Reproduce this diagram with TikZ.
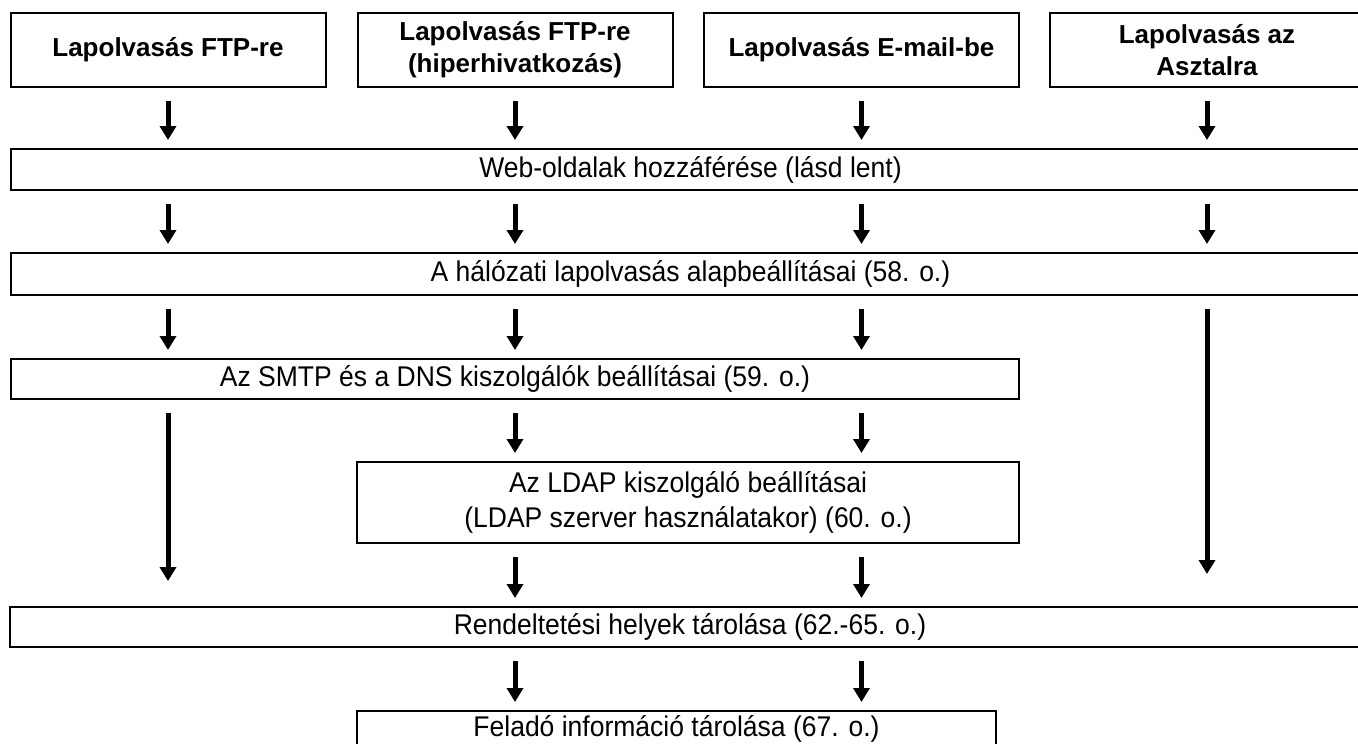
\documentclass[tikz,border=0pt]{standalone}
\usepackage{fontspec}
\setmainfont{Liberation Sans}
\newfontfamily\narrowsans{Liberation Sans}[FakeStretch=0.93]
\usetikzlibrary{arrows.meta, positioning}

\begin{document}
\begin{tikzpicture}[
        x=1pt, y=-1pt,
        every node/.style={align=center},
        scanbox/.style={
            rectangle, draw=black, line width=2pt,
            minimum width=315pt, minimum height=74pt, inner sep=0pt,
            font=\fontsize{26}{32}\selectfont\bfseries
        },
        widebox/.style={
            rectangle, draw=black, line width=2pt,
            minimum height=40pt, inner sep=0pt,
            font=\narrowsans\fontsize{28.5}{35}\selectfont
        },
        arr/.style={-{Triangle[width=16pt,length=14pt]}, line width=5pt,
            shorten <=13pt, shorten >=8pt},
    ]

    \useasboundingbox (0,0) rectangle (1358,744);

    \node (ftp)    [scanbox] at (168,50)    {Lapolvasás FTP-re};
    \node (hyper)  [scanbox] at (515,50)    {Lapolvasás FTP-re\\(hiperhivatkozás)};
    \node (email)  [scanbox] at (861.5,50)  {Lapolvasás E-mail-be};
    \node (desk)   [scanbox] at (1207,50)   {Lapolvasás az\\Asztalra};

    \node (web)    [widebox, minimum width=1359pt, minimum height=41pt] at (690.5,169.5)
                   {Web-oldalak hozzáférése (lásd lent)};
    \node (hal)    [widebox, minimum width=1359pt, minimum height=42pt] at (690.5,274)
                   {A hálózati lapolvasás alapbeállításai (58. o.)};
    \node (smtp)   [widebox, minimum width=1008pt] at (515,379)
                   {Az SMTP és a DNS kiszolgálók beállításai (59. o.)};
    \node (ldap)   [widebox, minimum width=662pt, minimum height=81pt] at (688,502.5)
                   {Az LDAP kiszolgáló beállításai\\(LDAP szerver használatakor) (60. o.)};
    \node (rend)   [widebox, minimum width=1360pt] at (690,627)
                   {Rendeltetési helyek tárolása (62.-65. o.)};
    \node (felado) [widebox, minimum width=639pt, minimum height=36pt] at (676.5,729)
                   {Feladó információ tárolása (67. o.)};

    \draw [arr] (ftp.south)   -- (ftp.south |- web.north);
    \draw [arr] (hyper.south) -- (hyper.south |- web.north);
    \draw [arr] (email.south) -- (email.south |- web.north);
    \draw [arr] (desk.south)  -- (desk.south |- web.north);

    \draw [arr] (ftp.south |- web.south)   -- (ftp.south |- hal.north);
    \draw [arr] (hyper.south |- web.south) -- (hyper.south |- hal.north);
    \draw [arr] (email.south |- web.south) -- (email.south |- hal.north);
    \draw [arr] (desk.south |- web.south)  -- (desk.south |- hal.north);

    \draw [arr] (ftp.south |- hal.south)   -- (ftp.south |- smtp.north);
    \draw [arr] (hyper.south |- hal.south) -- (hyper.south |- smtp.north);
    \draw [arr] (email.south |- hal.south) -- (email.south |- smtp.north);
    \draw [arr, shorten >=32pt] (desk.south |- hal.south) -- (desk.south |- rend.north);

    \draw [arr, shorten >=25pt] (ftp.south |- smtp.south) -- (ftp.south |- rend.north);
    \draw [arr] (hyper.south |- smtp.south) -- (hyper.south |- ldap.north);
    \draw [arr] (email.south |- smtp.south) -- (email.south |- ldap.north);

    \draw [arr] (hyper.south |- ldap.south) -- (hyper.south |- rend.north);
    \draw [arr] (email.south |- ldap.south) -- (email.south |- rend.north);

    \draw [arr] (hyper.south |- rend.south) -- (hyper.south |- felado.north);
    \draw [arr] (email.south |- rend.south) -- (email.south |- felado.north);

    \end{tikzpicture}
\end{document}
